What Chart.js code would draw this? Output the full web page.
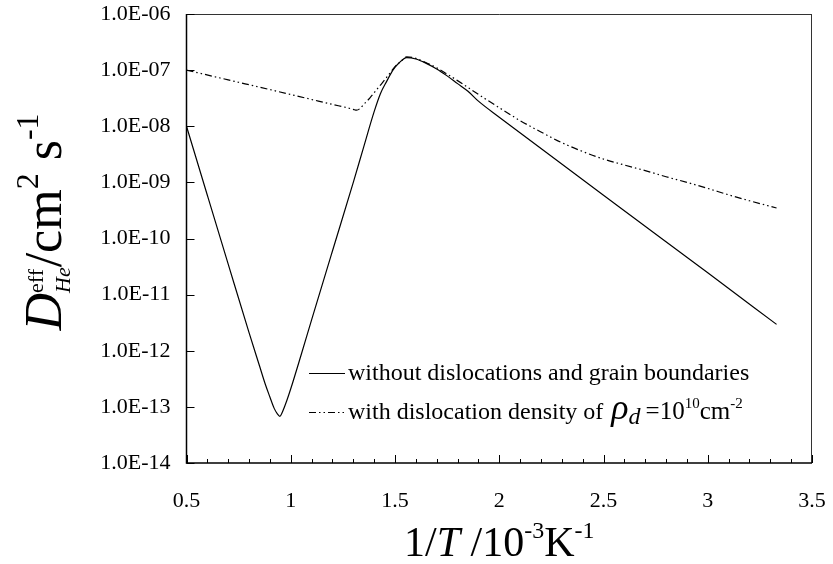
<!DOCTYPE html>
<html><head><meta charset="utf-8">
<script src="https://cdn.jsdelivr.net/npm/chart.js@4/dist/chart.umd.min.js"></script>
<style>html,body{margin:0;padding:0;background:#fff}#wrap{width:833px;height:564px;position:relative}</style>
</head><body><div id="wrap"><canvas id="c"></canvas></div>
<script>
const seriesNames = ['without dislocations and grain boundaries', 'with dislocation density of '];
const xSolid = [0.50, 0.60, 0.70, 0.80, 0.85, 0.88, 0.90, 0.92, 0.935, 0.948, 0.96, 0.98, 1.00, 1.05, 1.10, 1.20, 1.30, 1.35, 1.40, 1.43, 1.46, 1.49, 1.52, 1.556, 1.60, 1.65, 1.70, 1.75, 1.80, 1.85, 1.90, 2.00, 2.50, 3.00, 3.33];
const dSolid = [1.0e-8, 5.9e-10, 3.5e-11, 2.1e-12, 5.4e-13, 2.4e-13, 1.5e-13, 9.5e-14, 7.6e-14, 6.8e-14, 8.1e-14, 1.26e-13, 2.1e-13, 8.5e-13, 3.55e-12, 6.0e-11, 1.0e-9, 4.3e-9, 1.82e-8, 3.8e-8, 6.3e-8, 1.0e-7, 1.35e-7, 1.67e-7, 1.58e-7, 1.32e-7, 1.05e-7, 7.9e-8, 5.75e-8, 4.2e-8, 2.8e-8, 1.45e-8, 5.9e-10, 2.45e-11, 2.95e-12];
const xDislocation = [0.50, 0.70, 0.90, 1.10, 1.20, 1.27, 1.30, 1.316, 1.33, 1.35, 1.38, 1.41, 1.44, 1.47, 1.50, 1.53, 1.556, 1.60, 1.65, 1.70, 1.75, 1.80, 1.90, 2.00, 2.10, 2.20, 2.30, 2.40, 2.50, 2.60, 2.70, 2.80, 2.90, 3.00, 3.10, 3.20, 3.33];
const dDislocation = [1.0e-7, 6.7e-8, 4.5e-8, 3.0e-8, 2.45e-8, 2.14e-8, 2.0e-8, 1.93e-8, 2.04e-8, 2.45e-8, 3.2e-8, 4.4e-8, 6.0e-8, 8.3e-8, 1.15e-7, 1.45e-7, 1.72e-7, 1.62e-7, 1.35e-7, 1.1e-7, 8.5e-8, 6.5e-8, 3.7e-8, 2.14e-8, 1.26e-8, 7.9e-9, 5.1e-9, 3.55e-9, 2.6e-9, 2.04e-9, 1.62e-9, 1.26e-9, 1.0e-9, 7.8e-10, 6.0e-10, 4.7e-10, 3.5e-10];
const xTickValues = [0.5, 1, 1.5, 2, 2.5, 3, 3.5];
const xTickLabels = ['0.5', '1', '1.5', '2', '2.5', '3', '3.5'];
const yTickValues = [1e-6, 1e-7, 1e-8, 1e-9, 1e-10, 1e-11, 1e-12, 1e-13, 1e-14];
const yTickLabels = ['1.0E-06', '1.0E-07', '1.0E-08', '1.0E-09', '1.0E-10', '1.0E-11', '1.0E-12', '1.0E-13', '1.0E-14'];
const xMinorTickStep = 0.1;

const SERIF = "'Liberation Serif', 'Times New Roman', serif";
const dashDotDot = [7, 3, 1.5, 3, 1.5, 3];
const toPoints = (xs, ys) => xs.map((x, i) => ({ x: x, y: ys[i] }));

function drawRuns(ctx, runs, x0, baseline) {
  let x = x0;
  for (const r of runs) {
    if (r.stack) {
      let w = 0;
      for (const s of r.stack) {
        ctx.font = s.font;
        ctx.fillText(s.text, x, baseline + (s.dy || 0));
        w = Math.max(w, ctx.measureText(s.text).width);
      }
      x += w;
    } else {
      ctx.font = r.font;
      ctx.fillText(r.text, x + (r.dx || 0), baseline + (r.dy || 0));
      x += ctx.measureText(r.text).width + (r.dx || 0);
    }
  }
  return x;
}
function runsWidth(ctx, runs) {
  let x = 0;
  for (const r of runs) {
    if (r.stack) {
      let w = 0;
      for (const s of r.stack) { ctx.font = s.font; w = Math.max(w, ctx.measureText(s.text).width); }
      x += w;
    } else { ctx.font = r.font; x += ctx.measureText(r.text).width + (r.dx || 0); }
  }
  return x;
}
function zeroPadding(s) { s.paddingTop = 0; s.paddingBottom = 0; s.paddingLeft = 0; s.paddingRight = 0; }

const framePlugin = {
  id: 'frame',
  afterDatasetsDraw(chart) {
    const ctx = chart.ctx, a = chart.chartArea;
    const xs = chart.scales.x, ys = chart.scales.y;
    ctx.save();
    ctx.strokeStyle = '#333'; ctx.lineWidth = 1;
    ctx.beginPath();
    ctx.moveTo(a.left, a.top + 0.5); ctx.lineTo(a.right, a.top + 0.5);
    ctx.moveTo(a.right - 0.5, a.top); ctx.lineTo(a.right - 0.5, a.bottom);
    ctx.stroke();
    ctx.strokeStyle = '#000'; ctx.lineWidth = 1.5;
    ctx.beginPath();
    ctx.moveTo(a.left, a.top); ctx.lineTo(a.left, a.bottom); ctx.lineTo(a.right, a.bottom);
    ctx.stroke();
    ctx.lineWidth = 1;
    ctx.beginPath();
    const n = Math.round((xs.max - xs.min) / xMinorTickStep);
    for (let i = 0; i <= n; i++) {
      const v = xs.min + i * xMinorTickStep;
      const px = Math.round(xs.getPixelForValue(v)) + 0.5;
      const len = (i % 5 === 0) ? 8 : 4;
      ctx.moveTo(px, a.bottom); ctx.lineTo(px, a.bottom - len);
    }
    for (const v of yTickValues) {
      const py = Math.round(ys.getPixelForValue(v)) + 0.5;
      ctx.moveTo(a.left, py); ctx.lineTo(a.left + 8, py);
    }
    ctx.stroke();

    ctx.fillStyle = '#000';
    ctx.textAlign = 'left';
    ctx.textBaseline = 'alphabetic';
    const xRuns = [
      { text: '1/', font: '42px ' + SERIF },
      { text: 'T', font: 'italic 42px ' + SERIF },
      { text: ' /10', font: '42px ' + SERIF },
      { text: '-3', font: '24px ' + SERIF, dy: -18 },
      { text: 'K', font: '42px ' + SERIF },
      { text: '-1', font: '24px ' + SERIF, dy: -18 }
    ];
    const xw = runsWidth(ctx, xRuns);
    drawRuns(ctx, xRuns, (a.left + a.right) / 2 - xw / 2, 556);

    const yRuns = [
      { text: 'D', font: 'italic 52px ' + SERIF },
      { stack: [ { text: 'eff', font: '22px ' + SERIF, dy: -18 }, { text: 'He', font: 'italic 22px ' + SERIF, dy: 9 } ] },
      { text: '/cm', font: '52px ' + SERIF },
      { text: '2', font: '32px ' + SERIF, dy: -23 },
      { text: ' s', font: '52px ' + SERIF },
      { text: '-1', font: '32px ' + SERIF, dy: -23 }
    ];
    const yw = runsWidth(ctx, yRuns);
    ctx.save();
    ctx.translate(61, 222);
    ctx.rotate(-Math.PI / 2);
    drawRuns(ctx, yRuns, -yw / 2, 0);
    ctx.restore();

    const lx0 = 309, lx1 = 345;
    ctx.strokeStyle = '#000'; ctx.lineWidth = 1.2;
    ctx.beginPath(); ctx.moveTo(lx0, 373.5); ctx.lineTo(lx1, 373.5); ctx.stroke();
    ctx.setLineDash(dashDotDot);
    ctx.beginPath(); ctx.moveTo(lx0, 412.5); ctx.lineTo(lx1, 412.5); ctx.stroke();
    ctx.setLineDash([]);
    drawRuns(ctx, [{ text: seriesNames[0], font: '24px ' + SERIF }], 348, 380);
    drawRuns(ctx, [
      { text: seriesNames[1], font: '24px ' + SERIF },
      { text: '\u03C1', font: 'italic 36px ' + SERIF, dx: 2 },
      { text: 'd', font: 'italic 24px ' + SERIF, dy: 5 },
      { text: '=10', font: '25px ' + SERIF, dx: 5 },
      { text: '10', font: '15px ' + SERIF, dy: -11 },
      { text: 'cm', font: '25px ' + SERIF },
      { text: '-2', font: '15px ' + SERIF, dy: -11 }
    ], 348, 419);
    ctx.restore();
  }
};

new Chart(document.getElementById('c'), {
  type: 'line',
  data: {
    datasets: [
      { label: seriesNames[0], data: toPoints(xSolid, dSolid), borderColor: '#000', borderWidth: 1.2, pointRadius: 0, cubicInterpolationMode: 'monotone', fill: false },
      { label: seriesNames[1], data: toPoints(xDislocation, dDislocation), borderColor: '#000', borderWidth: 1.2, borderDash: dashDotDot, pointRadius: 0, cubicInterpolationMode: 'monotone', fill: false }
    ]
  },
  options: {
    responsive: true, maintainAspectRatio: false, animation: false, devicePixelRatio: 1,
    layout: { padding: { left: 0, right: 21, top: 14, bottom: 0 } },
    plugins: { legend: { display: false }, tooltip: { enabled: false } },
    scales: {
      x: {
        type: 'linear', min: 0.5, max: 3.5,
        grid: { display: false, drawTicks: false }, border: { display: false },
        afterBuildTicks: s => { s.ticks = xTickValues.map(v => ({ value: v })); },
        afterFit: s => { s.height = 101; zeroPadding(s); },
        ticks: { autoSkip: false, maxRotation: 0, padding: 25, color: '#000', font: { family: SERIF, size: 22 },
          callback: v => { const i = xTickValues.indexOf(v); return i >= 0 ? xTickLabels[i] : ''; } }
      },
      y: {
        type: 'logarithmic', min: 1e-14, max: 1e-6,
        grid: { display: false, drawTicks: false }, border: { display: false },
        afterBuildTicks: s => { s.ticks = yTickValues.map(v => ({ value: v })); },
        afterFit: s => { s.width = 186.5; zeroPadding(s); },
        ticks: { autoSkip: false, padding: 16, color: '#000', font: { family: SERIF, size: 22 },
          callback: v => { const i = yTickValues.findIndex(t => Math.abs(Math.log10(t) - Math.log10(v)) < 1e-6); return i >= 0 ? yTickLabels[i] : ''; } }
      }
    }
  },
  plugins: [framePlugin]
});
</script></body></html>
